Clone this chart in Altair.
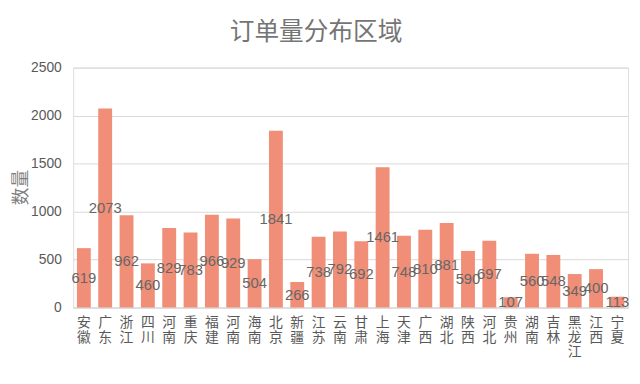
import json
import altair as alt
import pandas as pd

provinces = ["安徽", "广东", "浙江", "四川", "河南", "重庆", "福建", "河南", "海南", "北京",
             "新疆", "江苏", "云南", "甘肃", "上海", "天津", "广西", "湖北", "陕西", "河北",
             "贵州", "湖南", "吉林", "黑龙江", "江西", "宁夏"]
orders = [619, 2073, 962, 460, 829, 783, 966, 929, 504, 1841,
          266, 738, 792, 692, 1461, 748, 810, 881, 590, 697,
          107, 560, 548, 349, 400, 113]
y_ticks = [0, 500, 1000, 1500, 2000, 2500]

df = pd.DataFrame({"idx": list(range(len(provinces))), "name": provinces, "value": orders})
df["half"] = df["value"] / 2

names_js = json.dumps([list(p) for p in provinces], ensure_ascii=False)

gray = "#595959"

x = alt.X("idx:O", title=None, sort="ascending",
          scale=alt.Scale(paddingInner=0.35, paddingOuter=0.175),
          axis=alt.Axis(labelExpr=f"{names_js}[datum.value]", labelAngle=0,
                        labelFontSize=14, labelColor=gray, labelLineHeight=15,
                        labelPadding=8, labelBaseline="top",
                        ticks=False, domainColor="#d9d9d9", domainWidth=1,
                        labelFont="Noto Sans CJK SC"))

bars = alt.Chart(df).mark_bar(color="#F08E78").encode(
    x=x,
    y=alt.Y("value:Q", scale=alt.Scale(domain=[0, 2500], nice=False),
            axis=alt.Axis(values=y_ticks, format="d", title="数量", titleFontSize=18,
                          titleColor="#7f7f7f", titleFontWeight="normal",
                          titleFont="Noto Sans CJK SC",
                          titleAngle=-90, titleX=-52, titleY=121,
                          titleAlign="center", titleBaseline="middle",
                          labelFontSize=14, labelColor=gray, labelPadding=12,
                          ticks=False, domain=False, gridColor="#d9d9d9",
                          labelFont="Liberation Sans")),
)

labels = alt.Chart(df).mark_text(fontSize=15, color="#666666", font="Liberation Sans",
                                 baseline="middle").encode(
    x=x,
    y=alt.Y("half:Q"),
    text=alt.Text("value:Q"),
)

chart = alt.layer(bars, labels).properties(
    width=562, height=243,
    autosize=alt.AutoSizeParams(type="none"),
    padding={"left": 66, "top": 58, "right": 4, "bottom": 70},
    title=alt.TitleParams("订单量分布区域", fontSize=25, color="#757575", fontWeight="normal",
                          font="Noto Sans CJK SC", offset=16, dx=-35, anchor="middle"),
).configure_view(stroke=None).configure(background="white")

chart.save("out.html", embed_options={"renderer": "svg", "actions": False})
